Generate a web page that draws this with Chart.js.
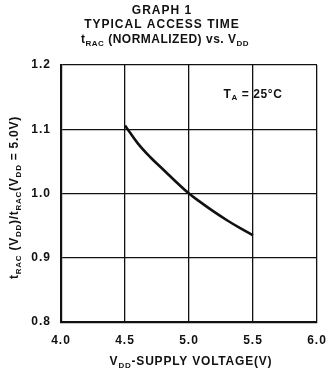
<!DOCTYPE html>
<html>
<head>
<meta charset="utf-8">
<script src="https://cdn.jsdelivr.net/npm/chart.js@4/dist/chart.umd.min.js"></script>
<style>
html,body{margin:0;padding:0;background:#fff;}
#wrap{width:330px;height:375px;position:relative;}
</style>
</head>
<body>
<div id="wrap"><canvas id="c" width="330" height="375"></canvas></div>
<script>
// Data
const vdd = [4.5, 4.6, 4.7, 4.8, 4.9, 5.0, 5.1, 5.2, 5.3, 5.4, 5.5];
const tracNorm = [1.106, 1.078, 1.056, 1.037, 1.018, 1.000, 0.985, 0.971, 0.958, 0.946, 0.935];
const xTicks = [4.0, 4.5, 5.0, 5.5, 6.0];
const yTicks = [0.8, 0.9, 1.0, 1.1, 1.2];
const titleLines = ["GRAPH 1", "TYPICAL ACCESS TIME"];
const annotation = {x: 5.5, y: 1.154};

const FONT = '"Liberation Sans", Arial, Helvetica, sans-serif';
const INK = '#111';

function drawRich(ctx, segs, x, y, size, align, spacing) {
  const subSize = Math.round(size * 0.7);
  ctx.letterSpacing = spacing + 'px';
  let total = 0;
  const widths = segs.map(s => {
    ctx.font = 'bold ' + (s.sub ? subSize : size) + 'px ' + FONT;
    const w = ctx.measureText(s.t).width;
    total += w;
    return w;
  });
  let cx = align === 'center' ? x - total / 2 : (align === 'right' ? x - total : x);
  segs.forEach((s, i) => {
    ctx.font = 'bold ' + (s.sub ? subSize : size) + 'px ' + FONT;
    ctx.fillText(s.t, cx, s.sub ? y + size * 0.28 : y);
    cx += widths[i];
  });
}

const textPlugin = {
  id: 'texts',
  beforeInit(chart) { chart.ctx.letterSpacing = '1px'; },
  beforeDraw(chart) { chart.ctx.letterSpacing = '1px'; },
  afterDraw(chart) {
    const ctx = chart.ctx;
    const a = chart.chartArea;
    const xs = chart.scales.x, ys = chart.scales.y;
    ctx.save();
    ctx.fillStyle = INK;
    ctx.textBaseline = 'middle';
    ctx.textAlign = 'left';
    const cx = 162;
    drawRich(ctx, [{t: titleLines[0]}], cx, 11, 12, 'center', 1);
    drawRich(ctx, [{t: titleLines[1]}], cx, 25, 12, 'center', 1);
    drawRich(ctx, [{t: 't'}, {t: 'RAC', sub: true}, {t: ' (NORMALIZED) vs. V'}, {t: 'DD', sub: true}], cx + 3, 40, 12, 'center', 0.5);
    // x axis title
    drawRich(ctx, [{t: 'V'}, {t: 'DD', sub: true}, {t: '-SUPPLY VOLTAGE(V)'}], (a.left + a.right) / 2 + 2, 362, 12, 'center', 0.8);
    // y axis title (rotated)
    ctx.save();
    ctx.translate(15, (a.top + a.bottom) / 2 + 4);
    ctx.rotate(-Math.PI / 2);
    drawRich(ctx, [{t: 't'}, {t: 'RAC', sub: true}, {t: ' (V'}, {t: 'DD', sub: true}, {t: ')/t'}, {t: 'RAC', sub: true}, {t: '(V'}, {t: 'DD', sub: true}, {t: ' = 5.0V)'}], 0, 0, 12, 'center', 0.75);
    ctx.restore();
    // annotation
    drawRich(ctx, [{t: 'T'}, {t: 'A', sub: true}, {t: ' = 25°C'}], xs.getPixelForValue(annotation.x), ys.getPixelForValue(annotation.y), 12, 'center', 0.6);
    ctx.restore();
  }
};

new Chart(document.getElementById('c'), {
  type: 'scatter',
  data: {
    datasets: [{
      data: vdd.map((v, i) => ({x: v, y: tracNorm[i]})),
      showLine: true,
      borderColor: INK,
      borderWidth: 2.6,
      pointRadius: 0,
      tension: 0.4,
      fill: false
    }]
  },
  options: {
    responsive: false,
    animation: false,
    devicePixelRatio: 1,
    layout: {padding: {top: 65, right: 13, left: 0, bottom: 0}},
    plugins: {legend: {display: false}, tooltip: {enabled: false}},
    scales: {
      x: {
        type: 'linear', min: 4.0, max: 6.0,
        afterBuildTicks: s => { s.ticks = xTicks.map(v => ({value: v})); },
        afterFit: s => { s.height = 53; s.paddingLeft = 0; s.paddingRight = 0; },
        grid: {color: INK, lineWidth: 1.3, drawTicks: false},
        border: {color: INK, width: 2.2},
        ticks: {color: INK, padding: 11, maxRotation: 0, font: {family: FONT, size: 12, weight: 'bold'}, callback: v => v.toFixed(1)}
      },
      y: {
        min: 0.8, max: 1.2,
        afterBuildTicks: s => { s.ticks = yTicks.map(v => ({value: v})); },
        afterFit: s => { s.width = 61; s.paddingTop = 0; s.paddingBottom = 0; },
        grid: {color: INK, lineWidth: 1.3, drawTicks: false},
        border: {color: INK, width: 2.2},
        ticks: {color: INK, padding: 10, font: {family: FONT, size: 12, weight: 'bold'}, callback: v => v.toFixed(1)}
      }
    }
  },
  plugins: [textPlugin]
});
</script>
</body>
</html>
